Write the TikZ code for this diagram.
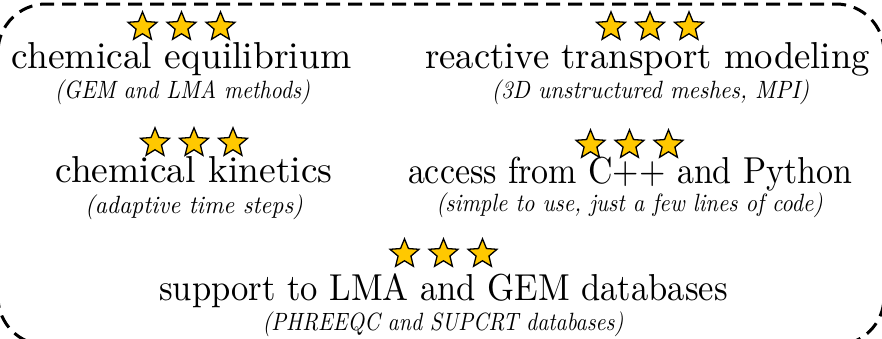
\documentclass[tikz,border=0pt]{standalone}
\usepackage{fontspec}
\setmainfont{lmroman10-regular.otf}[ItalicFont=lmroman10-italic.otf]
\usetikzlibrary{shapes.geometric}
\definecolor{stargold}{HTML}{FFC800}
\tikzset{
  rating/.style={star, star points=5, star point ratio=2.25, minimum size=30.4pt,
    inner sep=0pt, fill=stargold, draw=black, line width=1.3pt},
  headline/.style={anchor=base, inner sep=0pt, font=\fontsize{37.5}{40}\selectfont},
  remark/.style={anchor=base, inner sep=0pt, font=\fontsize{25}{28}\selectfont\itshape},
  frame/.style={draw=black, line width=3pt, dash pattern=on 14pt off 8pt,
    rounded corners=48pt}
}
% three rating stars centred at (#2,#3), named #1-1, #1-2, #1-3
\newcommand\ratingstars[3]{%
  \node[rating] (#1-1) at (#2-39,#3) {};
  \node[rating] (#1-2) at (#2,#3) {};
  \node[rating] (#1-3) at (#2+39,#3) {};
}
% horizontally condensed text
\newcommand\squeeze[2]{\scalebox{#1}[1]{#2}}
\begin{document}
\begin{tikzpicture}[x=1pt,y=-1pt]
\useasboundingbox (0,0) rectangle (882,338);
\clip (0,0) rectangle (882,338);
\draw[frame] (-2,4) rectangle (884,345);

% chemical equilibrium
\ratingstars{eq}{181.5}{27}
\node[headline] (eqtitle) at (181.5,68) {chemical equilibrium};
\node[remark] (eqnote) at (182.5,98) {\squeeze{0.88}{(GEM and LMA methods)}};

% reactive transport
\ratingstars{rt}{650}{27}
\node[headline] (rttitle) at (647.5,68) {\squeeze{0.978}{reactive transport modeling}};
\node[remark] (rtnote) at (650.5,98) {\squeeze{0.913}{(3D unstructured meshes, MPI)}};

% chemical kinetics
\ratingstars{kin}{194}{143}
\node[headline] (kintitle) at (194,182) {chemical kinetics};
\node[remark] (kinnote) at (194,213) {\squeeze{0.95}{(adaptive time steps)}};

% language interfaces
\ratingstars{api}{629.5}{145}
\node[headline] (apititle) at (630,183) {\squeeze{0.905}{access from C++ and Python}};
\node[remark] (apinote) at (629.5,211) {\squeeze{0.9}{(simple to use, just a few lines of code)}};

% databases
\ratingstars{db}{443.5}{254}
\node[headline] (dbtitle) at (443.5,300) {\squeeze{0.922}{support to LMA and GEM databases}};
\node[remark] (dbnote) at (443,330) {\squeeze{0.87}{(PHREEQC and SUPCRT databases)}};
\end{tikzpicture}
\end{document}
